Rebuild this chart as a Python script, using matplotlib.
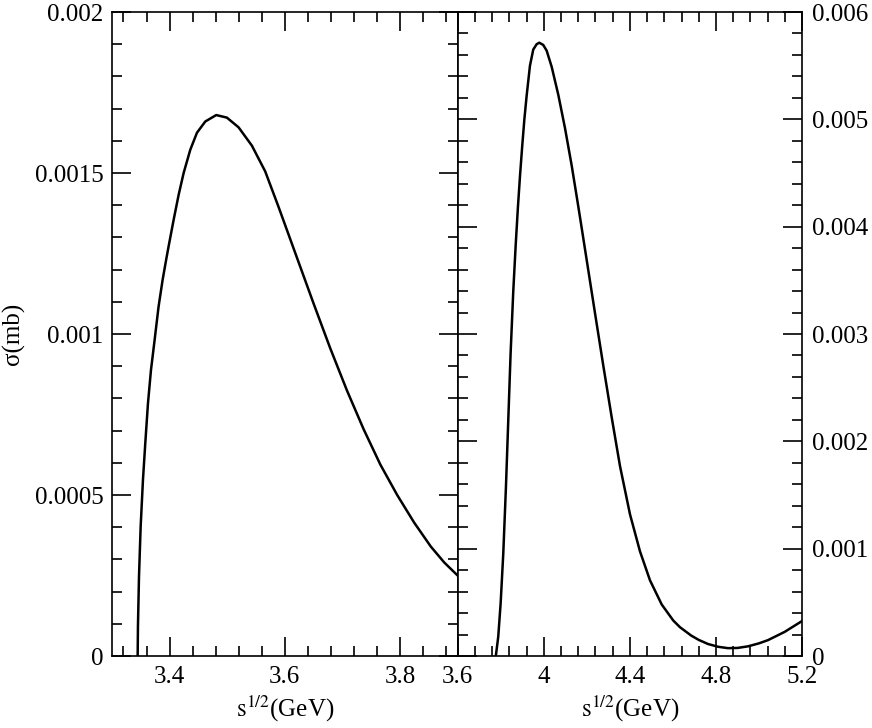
# -*- coding: utf-8 -*-
# Two-panel cross section figure, sigma vs sqrt(s)

import matplotlib as mpl
mpl.use('Agg')
import matplotlib.pyplot as plt
import matplotlib.ticker as mtick

mpl.rcParams['font.family'] = ['Liberation Serif', 'DejaVu Serif']
mpl.rcParams['mathtext.fontset'] = 'stix'
mpl.rcParams['font.size'] = 18

# left panel data (sqrt(s) in GeV, sigma in mb)
left_x = [3.3446, 3.3451, 3.3469, 3.3498, 3.3538, 3.3578, 3.3625, 3.3677, 3.374,
          3.3809, 3.3879, 3.3943, 3.3984, 3.4071, 3.4157, 3.4244, 3.4359, 3.4475,
          3.462, 3.481, 3.4995, 3.5197, 3.5429, 3.566, 3.5891, 3.6124, 3.6495,
          3.6786, 3.7078, 3.7369, 3.766, 3.7951, 3.8243, 3.8534, 3.877, 3.9]
left_sigma = [0.0, 0.000091, 0.000246, 0.000402, 0.000547, 0.00066, 0.000785,
              0.000888, 0.000981, 0.001085, 0.001168, 0.001233, 0.001273, 0.001355,
              0.001432, 0.0015, 0.001572, 0.001625, 0.00166, 0.00168, 0.001672,
              0.001642, 0.001585, 0.001505, 0.001395, 0.00128, 0.001097, 0.000957,
              0.000825, 0.000704, 0.000594, 0.0005, 0.000415, 0.00034, 0.00029,
              0.00025]

# right panel data
right_x = [3.7775, 3.7887, 3.7998, 3.8121, 3.8245, 3.8353, 3.8461, 3.8585, 3.8695,
           3.88, 3.89, 3.9, 3.91, 3.9206, 3.936, 3.9513, 3.967, 3.9792, 3.9978,
           4.0136, 4.0368, 4.0675, 4.0986, 4.1298, 4.1576, 4.173, 4.1995, 4.2381,
           4.2767, 4.3156, 4.3542, 4.4007, 4.4471, 4.4936, 4.548, 4.6019, 4.633,
           4.6853, 4.72, 4.7628, 4.81, 4.8558, 4.9, 4.9488, 5.0, 5.0419, 5.1194, 5.2]
right_sigma = [0.0, 0.00018, 0.000491, 0.000957, 0.001578, 0.002199, 0.00282,
               0.0034, 0.00382, 0.00418, 0.00448, 0.00475, 0.005, 0.00522, 0.0055,
               0.00565, 0.0057, 0.005714, 0.005693, 0.00564, 0.00549, 0.00523,
               0.00492, 0.00457, 0.004225, 0.00403, 0.00369, 0.003195, 0.002705,
               0.002225, 0.00177, 0.00132, 0.000975, 0.000705, 0.00048, 0.00033,
               0.000268, 0.00019, 0.00015, 0.000112, 0.000086, 0.000073, 0.000075,
               0.00009, 0.000118, 0.000148, 0.000225, 0.000326]

xlabel = r'$\mathrm{s}^{1/2}$(GeV)'
ylabel = 'σ(mb)'

fmt = mtick.FuncFormatter(lambda v, p: '%g' % round(v, 6))


def style_axes(ax, xmaj, xmin, ymaj, ymin):
    for sp in ax.spines.values():
        sp.set_linewidth(1.2)
    ax.xaxis.set_major_locator(mtick.MultipleLocator(xmaj))
    ax.xaxis.set_minor_locator(mtick.MultipleLocator(xmin))
    ax.yaxis.set_major_locator(mtick.MultipleLocator(ymaj))
    ax.yaxis.set_minor_locator(mtick.MultipleLocator(ymin))
    ax.xaxis.set_major_formatter(fmt)
    ax.yaxis.set_major_formatter(fmt)
    ax.tick_params(which='both', direction='in', top=True, bottom=True,
                   left=True, right=True, width=1.2)
    ax.tick_params(which='major', length=13.5)
    ax.tick_params(which='minor', length=7)
    ax.tick_params(axis='x', which='major', pad=7)
    ax.tick_params(axis='y', which='major', pad=6)


fig = plt.figure(figsize=(8.72, 7.28), dpi=100)
ax1 = fig.add_axes([0.1284, 0.0989, 0.3964, 0.8846])
ax2 = fig.add_axes([0.5248, 0.0989, 0.3950, 0.8846])

ax1.plot(left_x, left_sigma, c='black', lw=1.8)
ax1.set_xlim(3.3, 3.9)
ax1.set_ylim(0, 0.002)
style_axes(ax1, 0.2, 0.04, 0.0005, 0.0001)
ax1.set_xticks([3.4, 3.6, 3.8])
ax1.set_xlabel(xlabel, labelpad=4)
ax1.set_ylabel(ylabel, labelpad=7)

ax2.plot(right_x, right_sigma, c='black', lw=1.8)
ax2.set_xlim(3.6, 5.2)
ax2.set_ylim(0, 0.006)
style_axes(ax2, 0.4, 0.08, 0.001, 0.0002)
ax2.yaxis.tick_right()
ax2.tick_params(which='both', left=True, right=True, labelleft=False, labelright=True)
ax2.tick_params(axis='y', which='major', pad=7)
ax2.set_xlabel(xlabel, labelpad=4)

fig.savefig('out.png', dpi=100)
